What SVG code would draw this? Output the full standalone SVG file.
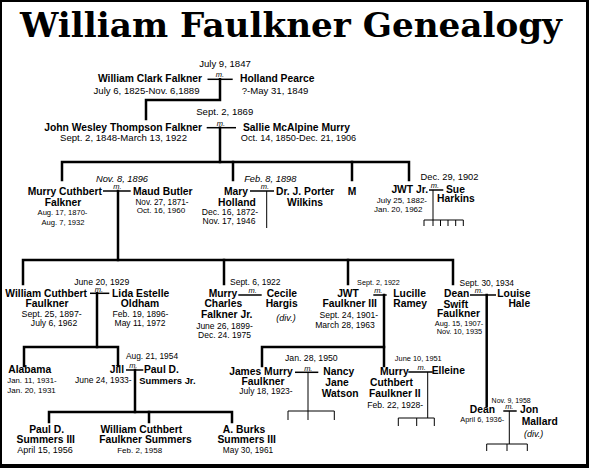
<svg xmlns="http://www.w3.org/2000/svg" width="589" height="468" viewBox="0 0 589 468">
<style>
text{font-family:"Liberation Sans",Arial,sans-serif;fill:#000}
.n{font-weight:bold;font-size:10.3px}
.d{font-size:8.6px}
.i{font-style:italic}
.m{font-style:italic;font-size:7.5px;text-anchor:middle}
.c{text-anchor:middle}
.e{text-anchor:end}
.title{font-family:"DejaVu Serif","Liberation Serif",serif;font-weight:bold;font-size:34px}
.thick{fill:none;stroke:#000;stroke-width:2.5;stroke-linecap:square;stroke-linejoin:miter}
.mar{fill:none;stroke:#000;stroke-width:1.5}
.thin{fill:none;stroke:#000;stroke-width:1}
</style>
<rect x="0" y="0" width="589" height="468" fill="#fff"/>
<g id="frame" fill="#000">
<rect x="0" y="0" width="589" height="2"/>
<rect x="0" y="0" width="2" height="468"/>
<rect x="586" y="0" width="3" height="468"/>
<rect x="0" y="464" width="589" height="4"/>
</g>
<text id="title" class="title" x="20" y="37" textLength="542" lengthAdjust="spacingAndGlyphs">William Faulkner Genealogy</text>

<g id="connectors">
<g id="marriage-lines" class="mar">
<path d="M207.5,79.3H232.7"/>
<path d="M206.7,127.7H236"/>
<path d="M103,191H130.7"/>
<path d="M250,191H274"/>
<path d="M429,190H443.3"/>
<path d="M90,293.3H109.3"/>
<path d="M238.3,295H261.7"/>
<path d="M373.3,295H386.7"/>
<path d="M470,295H496"/>
<path d="M126,370H143.3"/>
<path d="M295,372.3H318.3"/>
<path d="M408.3,372H432.7"/>
<path d="M503.3,411H516.7"/>
</g>
<g id="descent-lines" class="thick">
<path d="M220,79.3V100H146V119"/>
<path d="M220,127.7V162"/>
<path d="M62,180V162H409V180"/>
<path d="M233,162V180"/>
<path d="M352,162V180"/>
<path d="M118,191V260"/>
<path d="M23,284V260H453V284"/>
<path d="M224,260V284"/>
<path d="M348,260V284"/>
<path d="M97,293.3V347"/>
<path d="M24,366V347H118V366"/>
<path d="M384,295V347"/>
<path d="M262,366V347H384V366"/>
<path d="M486.7,295V406"/>
<path d="M135,370V412"/>
<path d="M49,422V412H232V422"/>
<path d="M149,412V422"/>
</g>
<g id="child-combs" class="thin">
<path d="M266.7,191V228"/>
<path d="M433,190V220"/>
<path d="M424,226V220H463.3V226M433,220V226M440.5,220V226M448,220V226M455.7,220V226"/>
<path d="M308,372.3V411"/>
<path d="M288,420V411H334.3V420M308,411V420"/>
<path d="M427.7,372V418"/>
<path d="M398.3,426V418H434.3V426M416.7,418V426"/>
<path d="M509.3,411V444"/>
<path d="M486.7,451V444H527.3V451M507,444V451"/>
</g>
<g id="marriage-labels">
<text class="c" x="225" y="67" style="font-size:9.6px">July 9, 1847</text>
<text class="m" x="220" y="77.3">m.</text>
<text class="c" x="224.7" y="115" style="font-size:9.6px">Sept. 2, 1869</text>
<text class="m" x="221" y="125.7">m.</text>
<text class="c i" x="122" y="181.5" style="font-size:9.3px">Nov. 8, 1896</text>
<text class="m" x="117.5" y="189.2">m.</text>
<text class="c i" x="270.3" y="181.5" style="font-size:9.3px">Feb. 8, 1898</text>
<text class="m" x="265" y="189.2">m.</text>
<text class="c" x="449.5" y="179.5" style="font-size:9.3px">Dec. 29, 1902</text>
<text class="m" x="435" y="188.2">m.</text>
<text class="c" x="101.7" y="284.8" style="font-size:8.7px">June 20, 1929</text>
<text class="m" x="99" y="291.5">m.</text>
<text class="c" x="255.3" y="284.8" style="font-size:8.5px">Sept. 6, 1922</text>
<text class="m" x="252.7" y="293.2">m.</text>
<text class="c" x="378.5" y="284.8" style="font-size:7.2px">Sept. 2, 1922</text>
<text class="m" x="378.3" y="293.2">m.</text>
<text class="c" x="486.8" y="285.5" style="font-size:8.4px">Sept. 30, 1934</text>
<text class="m" x="479" y="293.2">m.</text>
<text class="c" x="152" y="358.8" style="font-size:8.4px">Aug. 21, 1954</text>
<text class="m" x="133.3" y="368.2">m.</text>
<text class="c" x="311.3" y="361.2" style="font-size:8.7px">Jan. 28, 1950</text>
<text class="m" x="308.3" y="370.5">m.</text>
<text class="c" x="418.3" y="361.2" style="font-size:7.4px">June 10, 1951</text>
<text class="m" x="421.7" y="370.2">m.</text>
<text class="c" x="511.2" y="402.8" style="font-size:7px">Nov. 9, 1958</text>
<text class="m" x="509.3" y="409.2">m.</text>
</g>
</g>

<g id="p-william-clark-falkner">
<text class="n e" x="202" y="82">William Clark Falkner</text>
<text class="d c" x="146.5" y="93.5" style="font-size:9.6px">July 6, 1825-Nov. 6,1889</text>
</g>
<g id="p-holland-pearce">
<text class="n" x="240" y="82">Holland Pearce</text>
<text class="d c" x="275" y="93.5" style="font-size:9.6px">?-May 31, 1849</text>
</g>
<g id="p-john-wesley-thompson-falkner">
<text class="n e" x="202" y="130.5">John Wesley Thompson Falkner</text>
<text class="d c" x="123.5" y="141" style="font-size:9.6px">Sept. 2, 1848-March 13, 1922</text>
</g>
<g id="p-sallie-mcalpine-murry">
<text class="n" x="243" y="130.5">Sallie McAlpine Murry</text>
<text class="d c" x="298.5" y="141" style="font-size:9.2px">Oct. 14, 1850-Dec. 21, 1906</text>
</g>

<g id="p-murry-cuthbert-falkner">
<text class="n e" x="102" y="195">Murry Cuthbert</text>
<text class="n c" x="63" y="205.7">Falkner</text>
<text class="d c" x="62.5" y="215" style="font-size:7.6px">Aug. 17, 1870-</text>
<text class="d c" x="63" y="225" style="font-size:7.6px">Aug. 7, 1932</text>
</g>
<g id="p-maud-butler">
<text class="n" x="133" y="195">Maud Butler</text>
<text class="d c" x="162" y="205" style="font-size:8.2px">Nov. 27, 1871-</text>
<text class="d c" x="161" y="213" style="font-size:8.1px">Oct. 16, 1960</text>
</g>
<g id="p-mary-holland">
<text class="n e" x="248" y="195">Mary</text>
<text class="n c" x="237" y="205.7">Holland</text>
<text class="d c" x="230" y="214.5" style="font-size:8.6px">Dec. 16, 1872-</text>
<text class="d c" x="229" y="223.5" style="font-size:8.6px">Nov. 17, 1946</text>
</g>
<g id="p-j-porter-wilkins">
<text class="n" x="276" y="195">Dr. J. Porter</text>
<text class="n c" x="305" y="205.7">Wilkins</text>
</g>
<g id="p-m">
<text class="n c" x="352" y="195">M</text>
</g>
<g id="p-jwt-jr">
<text class="n e" x="428" y="193">JWT Jr.</text>
<text class="d e" x="427" y="202.5" style="font-size:8px">July 25, 1882-</text>
<text class="d e" x="422.5" y="211.5" style="font-size:8px">Jan. 20, 1962</text>
</g>
<g id="p-sue-harkins">
<text class="n" x="446" y="193">Sue</text>
<text class="n" x="437" y="202">Harkins</text>
</g>

<g id="p-william-cuthbert-faulkner">
<text class="n e" x="87" y="297">William Cuthbert</text>
<text class="n c" x="47" y="307.3">Faulkner</text>
<text class="d c" x="51.7" y="317" style="font-size:8.8px">Sept. 25, 1897-</text>
<text class="d c" x="54" y="326" style="font-size:8.6px">July 6, 1962</text>
</g>
<g id="p-lida-estelle-oldham">
<text class="n" x="112" y="297">Lida Estelle</text>
<text class="n c" x="140" y="307.3">Oldham</text>
<text class="d c" x="140.5" y="317" style="font-size:8.6px">Feb. 19, 1896-</text>
<text class="d c" x="140" y="326" style="font-size:8.5px">May 11, 1972</text>
</g>
<g id="p-murry-charles-falkner-jr">
<text class="n e" x="237.3" y="297">Murry</text>
<text class="n c" x="223.3" y="307.3">Charles</text>
<text class="n c" x="226.7" y="318">Falkner Jr.</text>
<text class="d c" x="224.5" y="328.5" style="font-size:8.5px">June 26, 1899-</text>
<text class="d c" x="224.5" y="337.5" style="font-size:8.5px">Dec. 24. 1975</text>
</g>
<g id="p-cecile-hargis">
<text class="n" x="266.7" y="297">Cecile</text>
<text class="n c" x="281.7" y="307.3">Hargis</text>
<text class="i c" x="286" y="320.5" style="font-size:9px">(div.)</text>
</g>
<g id="p-jwt-faulkner-iii">
<text class="n c" x="348" y="297">JWT</text>
<text class="n c" x="349.7" y="307.3">Faulkner III</text>
<text class="d c" x="348.8" y="318" style="font-size:8.6px">Sept. 24, 1901-</text>
<text class="d c" x="345" y="327.5" style="font-size:8.6px">March 28, 1963</text>
</g>
<g id="p-lucille-ramey">
<text class="n" x="393.3" y="297">Lucille</text>
<text class="n" x="393.3" y="307.3">Ramey</text>
</g>
<g id="p-dean-swift-faulkner">
<text class="n e" x="469.3" y="297">Dean</text>
<text class="n c" x="455.8" y="307.5">Swift</text>
<text class="n c" x="458.5" y="317.3">Faulkner</text>
<text class="d c" x="459" y="325.7" style="font-size:7.4px">Aug. 15, 1907-</text>
<text class="d c" x="459.5" y="333.7" style="font-size:7.4px">Nov. 10, 1935</text>
</g>
<g id="p-louise-hale">
<text class="n" x="497.3" y="297">Louise</text>
<text class="n c" x="519.3" y="307.3">Hale</text>
</g>

<g id="p-alabama">
<text class="n" x="8.3" y="373.3">Alabama</text>
<text class="d" x="7.3" y="383.3" style="font-size:7.8px">Jan. 11, 1931-</text>
<text class="d" x="7.3" y="393" style="font-size:8px">Jan. 20, 1931</text>
</g>
<g id="p-jill">
<text class="n e" x="124" y="373.3">Jill</text>
<text class="d e" x="131.7" y="383.3" style="font-size:8.5px">June 24, 1933-</text>
</g>
<g id="p-paul-d-summers-jr">
<text class="n" x="144" y="373.3">Paul D.</text>
<text class="n" x="139.3" y="384" style="font-size:9.4px">Summers Jr.</text>
</g>
<g id="p-james-murry-faulkner">
<text class="n e" x="292.7" y="375">James Murry</text>
<text class="n c" x="263" y="384.5">Faulkner</text>
<text class="d e" x="292.7" y="394" style="font-size:8.5px">July 18, 1923-</text>
</g>
<g id="p-nancy-jane-watson">
<text class="n" x="323.3" y="375">Nancy</text>
<text class="n c" x="337" y="385.7">Jane</text>
<text class="n" x="321.7" y="396.5">Watson</text>
</g>
<g id="p-murry-cuthbert-faulkner-ii">
<text class="n" x="380" y="375">Murry</text>
<text class="n" x="370" y="385.7">Cuthbert</text>
<text class="n" x="369" y="396.7">Faulkner II</text>
<text class="d" x="367.3" y="407.5" style="font-size:8.6px">Feb. 22, 1928-</text>
</g>
<g id="p-elleine">
<text class="n" x="431.7" y="374.3">Elleine</text>
</g>
<g id="p-dean">
<text class="n e" x="495" y="413.3">Dean</text>
<text class="d e" x="504.3" y="422.3" style="font-size:7.4px">April 6, 1936-</text>
</g>
<g id="p-jon-mallard">
<text class="n" x="520" y="413.3">Jon</text>
<text class="n" x="521.7" y="424.7">Mallard</text>
<text class="i" x="524" y="436.5" style="font-size:9px">(div.)</text>
</g>

<g id="p-paul-d-summers-iii">
<text class="n c" x="46.7" y="433.3">Paul D.</text>
<text class="n c" x="45.8" y="443.3">Summers III</text>
<text class="d c" x="45" y="453.3" style="font-size:9px">April 15, 1956</text>
</g>
<g id="p-william-cuthbert-faulkner-summers">
<text class="n c" x="141.3" y="433.3">William Cuthbert</text>
<text class="n c" x="145.5" y="443.3">Faulkner Summers</text>
<text class="d c" x="139.7" y="453.3" style="font-size:8px">Feb. 2, 1958</text>
</g>
<g id="p-a-burks-summers-iii">
<text class="n c" x="244" y="433.3">A. Burks</text>
<text class="n c" x="246.7" y="443.3">Summers III</text>
<text class="d c" x="248" y="453.3" style="font-size:8.3px">May 30, 1961</text>
</g>
</svg>
